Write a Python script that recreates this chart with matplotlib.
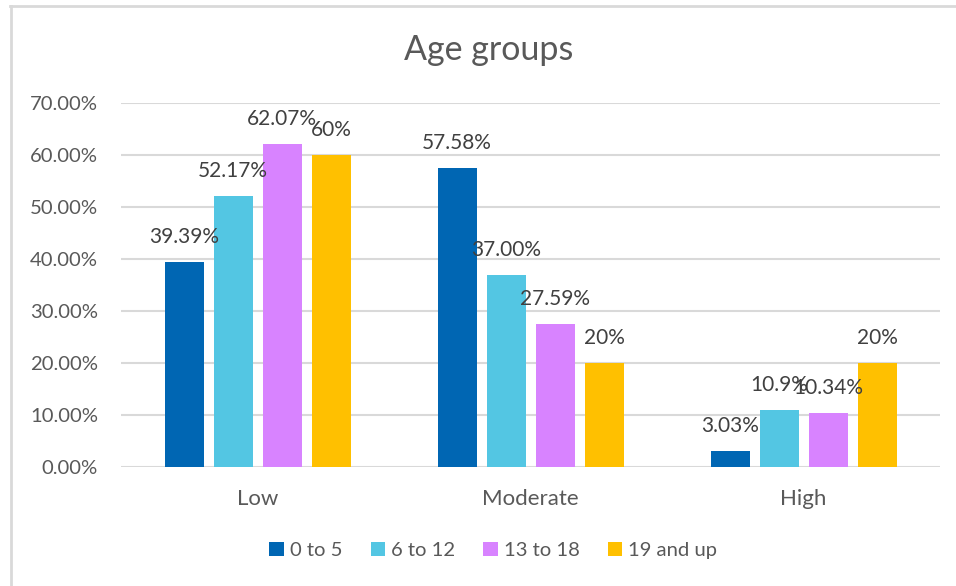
import numpy as np
import matplotlib
matplotlib.use("Agg")
from matplotlib import pyplot as plt
from matplotlib.lines import Line2D
from matplotlib.patches import Patch

plt.rcParams['font.family'] = ['Lato', 'DejaVu Sans']

# data
categories = ["Low", "Moderate", "High"]
groups = ["0 to 5", "6 to 12", "13 to 18", "19 and up"]
age_0_5 = [39.39, 57.58, 3.03]
age_6_12 = [52.17, 37.00, 10.9]
age_13_18 = [62.07, 27.59, 10.34]
age_19_up = [60, 20, 20]
label_text = [
    ["39.39%", "57.58%", "3.03%"],
    ["52.17%", "37.00%", "10.9%"],
    ["62.07%", "27.59%", "10.34%"],
    ["60%", "20%", "20%"],
]
series = [age_0_5, age_6_12, age_13_18, age_19_up]
colors = ["#0066B3", "#53C6E3", "#D883FF", "#FFC000"]

fig = plt.figure(figsize=(9.56, 5.86), dpi=100)
ax = fig.add_axes([0.1266, 0.2031, 0.9833 - 0.1266, 0.8242 - 0.2031])

x = np.arange(len(categories))
pitch = 0.1795
width = 0.143
for i, vals in enumerate(series):
    pos = x + (i - 1.5) * pitch
    bars = ax.bar(pos, vals, width, color=colors[i], zorder=3)
    for b, txt in zip(bars, label_text[i]):
        ax.annotate(txt, (b.get_x() + b.get_width() / 2, b.get_height()),
                    xytext=(0, 25), textcoords="offset pixels",
                    ha="center", va="center", fontsize=15, color="#404040",
                    zorder=4)

ax.set_xlim(-0.5, 2.5)
ax.set_ylim(0, 70)
ax.set_yticks(np.arange(0, 71, 10))
ax.set_yticklabels([f"{v:.2f}%" for v in np.arange(0, 71, 10)])
ax.set_xticks(x)
ax.set_xticklabels(categories)
ax.tick_params(axis="both", length=0, colors="#595959")
ax.tick_params(axis="y", pad=16.5, labelsize=14.6)
ax.tick_params(axis="x", pad=16, labelsize=16)
ax.grid(axis="y", color="#D9D9D9", linewidth=1.5, zorder=0)
for s in ax.spines.values():
    s.set_visible(False)

fig.text(0.511, 0.915, "Age groups", ha="center", va="center",
         fontsize=24.5, color="#595959")

handles = [Patch(facecolor=c, edgecolor="none") for c in colors]
fig.legend(handles, groups, loc="center", bbox_to_anchor=(0.516, 0.061),
           ncol=4, frameon=False, fontsize=14.6, handlelength=0.7,
           handleheight=0.7, handletextpad=0.3, columnspacing=1.4,
           labelcolor="#595959")

# outer chart frame (left and top edges)
fig.add_artist(Line2D([10.5 / 956, 10.5 / 956], [0, 1 - 6 / 586],
                      color="#D9D9D9", linewidth=2, transform=fig.transFigure))
fig.add_artist(Line2D([10 / 956, 1], [1 - 6 / 586, 1 - 6 / 586],
                      color="#D9D9D9", linewidth=2, transform=fig.transFigure))

fig.savefig("out.png", dpi=100)
